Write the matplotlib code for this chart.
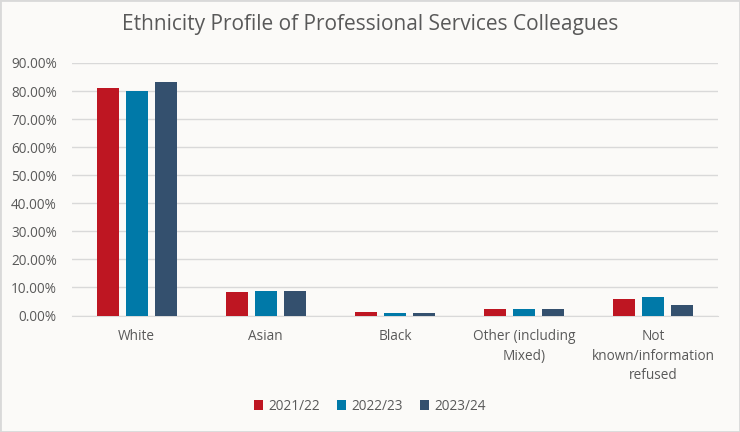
import numpy as np
import matplotlib.pyplot as plt
from matplotlib.ticker import PercentFormatter

categories = ['White', 'Asian', 'Black', 'Other (including\nMixed)', 'Not\nknown/information\nrefused']
years = ['2021/22', '2022/23', '2023/24']
v_2021 = [81.1, 8.3, 1.2, 2.3, 6.0]
v_2022 = [80.1, 8.9, 1.0, 2.3, 6.7]
v_2023 = [83.3, 8.7, 0.9, 2.2, 3.9]
colors = ['#BE1622', '#0079A8', '#34506E']

plt.rcParams['font.family'] = ['Open Sans', 'DejaVu Sans']
bg = '#FBFAF8'
txt = '#595959'

fig = plt.figure(figsize=(7.4, 4.32), dpi=100, facecolor=bg)
ax = fig.add_axes([72 / 740, 1 - 315.5 / 432, 646 / 740, 252.5 / 432], facecolor=bg)

x = np.arange(len(categories))
w = 0.17
step = 0.225
for i, (vals, lab) in enumerate(zip([v_2021, v_2022, v_2023], years)):
    ax.bar(x + (i - 1) * step, vals, width=w, color=colors[i], label=lab, zorder=3)

ax.set_xlim(-0.5, len(categories) - 0.5)
ax.set_ylim(0, 90)
ax.set_yticks(np.arange(0, 91, 10))
ax.yaxis.set_major_formatter(PercentFormatter(decimals=2))
ax.grid(axis='y', color='#D9D9D9', linewidth=1, zorder=0)
for s in ['top', 'right', 'left']:
    ax.spines[s].set_visible(False)
ax.spines['bottom'].set_color('#D9D9D9')
ax.tick_params(axis='both', length=0, colors=txt, labelsize=9.8)
ax.tick_params(axis='y', pad=11)
ax.set_xticks(x)
ax.set_xticklabels(categories, linespacing=1.4, va='top')
ax.tick_params(axis='x', pad=10)

fig.suptitle('Ethnicity Profile of Professional Services Colleagues', x=0.5, y=1 - 14 / 432,
             va='top', fontsize=15, color=txt)
fig.legend(loc='center', bbox_to_anchor=(0.5, 1 - 406 / 432), ncol=3, frameon=False,
           fontsize=9.8, handlelength=0.7, handleheight=0.7, handletextpad=0.4,
           columnspacing=1.2, labelcolor=txt)

fig.patches.append(plt.Rectangle((0, 0), 1, 1, transform=fig.transFigure, fill=False,
                                 edgecolor='#D9D9D9', linewidth=2))
plt.savefig('out.png', dpi=100, facecolor=bg)
